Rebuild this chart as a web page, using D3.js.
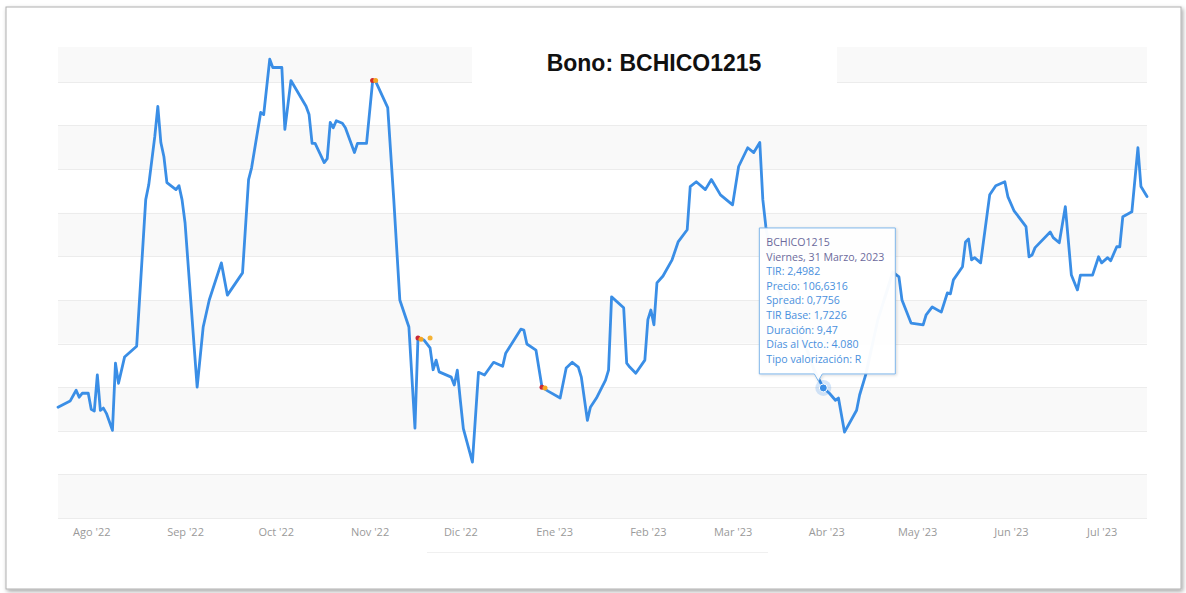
<!DOCTYPE html>
<html>
<head>
<meta charset="utf-8">
<script src="https://cdn.jsdelivr.net/npm/d3@7/dist/d3.min.js"></script>
<style>
html,body{margin:0;padding:0;background:#fff;}
svg{display:block;}
</style>
</head>
<body>
<svg id="chart" width="1186" height="593"></svg>
<script>
// ---- data ----
const titleText = "Bono: BCHICO1215";
const dates = [
"2022-07-21","2022-07-25","2022-07-27","2022-07-28","2022-07-29","2022-07-31","2022-08-01","2022-08-02","2022-08-03","2022-08-04",
"2022-08-05","2022-08-06","2022-08-08","2022-08-09","2022-08-10","2022-08-12","2022-08-16","2022-08-19","2022-08-20","2022-08-22",
"2022-08-23","2022-08-24","2022-08-25","2022-08-26","2022-08-29","2022-08-30","2022-08-31","2022-09-01","2022-09-05","2022-09-07",
"2022-09-09","2022-09-13","2022-09-15","2022-09-20","2022-09-22","2022-09-23","2022-09-26","2022-09-27","2022-09-29","2022-09-30",
"2022-10-03","2022-10-04","2022-10-06","2022-10-11","2022-10-12","2022-10-13","2022-10-14","2022-10-17","2022-10-18","2022-10-19",
"2022-10-20","2022-10-21","2022-10-23","2022-10-24","2022-10-27","2022-10-28","2022-10-31","2022-11-02","2022-11-03","2022-11-07",
"2022-11-09","2022-11-11","2022-11-14","2022-11-16","2022-11-17","2022-11-19","2022-11-21","2022-11-22","2022-11-23","2022-11-24",
"2022-11-28","2022-11-29","2022-11-30","2022-12-01","2022-12-02","2022-12-05","2022-12-07","2022-12-09","2022-12-12","2022-12-15",
"2022-12-16","2022-12-21","2022-12-22","2022-12-23","2022-12-26","2022-12-28","2022-12-30","2023-01-03","2023-01-05","2023-01-07",
"2023-01-09","2023-01-10","2023-01-12","2023-01-13","2023-01-15","2023-01-18","2023-01-19","2023-01-20","2023-01-24","2023-01-25",
"2023-01-26","2023-01-28","2023-01-31","2023-02-01","2023-02-02","2023-02-03","2023-02-04","2023-02-06","2023-02-09","2023-02-11",
"2023-02-14","2023-02-15","2023-02-17","2023-02-20","2023-02-22","2023-02-25","2023-03-01","2023-03-03","2023-03-06","2023-03-08",
"2023-03-10","2023-03-11","2023-03-12","2023-03-15","2023-03-20","2023-03-25","2023-03-28","2023-03-31","2023-04-02","2023-04-04",
"2023-04-05","2023-04-07","2023-04-11","2023-04-12","2023-04-14","2023-04-18","2023-04-23","2023-04-25","2023-04-26","2023-04-29",
"2023-05-03","2023-05-04","2023-05-06","2023-05-09","2023-05-11","2023-05-12","2023-05-13","2023-05-16","2023-05-17","2023-05-18",
"2023-05-19","2023-05-20","2023-05-22","2023-05-25","2023-05-27","2023-05-30","2023-05-31","2023-06-02","2023-06-06","2023-06-07",
"2023-06-08","2023-06-09","2023-06-14","2023-06-15","2023-06-17","2023-06-19","2023-06-21","2023-06-23","2023-06-24","2023-06-28",
"2023-06-30","2023-07-01","2023-07-03","2023-07-04","2023-07-06","2023-07-07","2023-07-08","2023-07-11","2023-07-13","2023-07-14",
"2023-07-16"
];
const tir = [
2.454,2.468,2.493,2.477,2.486,2.486,2.449,2.445,2.528,2.447,
2.452,2.440,2.401,2.555,2.509,2.569,2.594,2.930,2.964,3.075,
3.144,3.061,3.029,2.969,2.953,2.962,2.930,2.877,2.500,2.638,
2.700,2.785,2.711,2.762,2.976,3.003,3.130,3.125,3.252,3.233,
3.233,3.091,3.203,3.144,3.125,3.059,3.059,3.015,3.024,3.107,
3.095,3.111,3.105,3.095,3.038,3.059,3.059,3.201,3.201,3.141,
2.930,2.700,2.638,2.406,2.613,2.608,2.590,2.540,2.562,2.535,
2.523,2.505,2.539,2.470,2.405,2.328,2.534,2.528,2.557,2.548,
2.578,2.633,2.631,2.599,2.585,2.500,2.491,2.475,2.544,2.557,
2.546,2.523,2.424,2.454,2.475,2.516,2.539,2.707,2.682,2.555,
2.546,2.532,2.562,2.655,2.677,2.643,2.739,2.755,2.792,2.833,
2.861,2.960,2.971,2.953,2.976,2.941,2.918,3.006,3.049,3.038,
3.061,2.930,2.868,2.746,2.654,2.597,2.539,2.4982,2.486,2.470,
2.475,2.397,2.447,2.482,2.528,2.654,2.764,2.753,2.700,2.647,
2.643,2.666,2.684,2.672,2.716,2.714,2.746,2.776,2.833,2.840,
2.792,2.797,2.785,2.941,2.962,2.971,2.937,2.905,2.868,2.799,
2.803,2.820,2.856,2.843,2.831,2.914,2.757,2.723,2.757,2.757,
2.799,2.785,2.797,2.790,2.822,2.822,2.891,2.902,3.049,2.960,
2.937
];
const tickDates = ["2022-08-01","2022-09-01","2022-10-01","2022-11-01","2022-12-01","2023-01-01","2023-02-01","2023-03-01","2023-04-01","2023-05-01","2023-06-01","2023-07-01"];
const tickLabels = ["Ago '22","Sep '22","Oct '22","Nov '22","Dic '22","Ene '23","Feb '23","Mar '23","Abr '23","May '23","Jun '23","Jul '23"];
const gridValues = [2.2,2.3,2.4,2.5,2.6,2.7,2.8,2.9,3.0,3.1,3.2];
const markerDates = ["2022-11-02","2022-11-03","2022-11-17","2022-11-18","2022-11-21","2022-12-28","2022-12-29"];
const markerValues = [3.203,3.203,2.613,2.610,2.613,2.500,2.498];
const markerColors = ["#d22b2b","#f5a623","#c8283a","#f5a623","#f5b335","#c8283a","#f5a623"];
const tooltipDate = "2023-03-31";
const tooltipLines = ["BCHICO1215","Viernes, 31 Marzo, 2023","TIR: 2,4982","Precio: 106,6316","Spread: 0,7756","TIR Base: 1,7226","Duración: 9,47","Días al Vcto.: 4.080","Tipo valorización: R"];

// ---- drawing ----
const parse = d3.timeParse("%Y-%m-%d");
const series = dates.map((d,i)=>({date:parse(d), v:tir[i]}));
const svg = d3.select("#chart");

const defs = svg.append("defs");
const f = defs.append("filter").attr("id","sh").attr("x","-5%").attr("y","-5%").attr("width","110%").attr("height","110%");
f.append("feDropShadow").attr("dx",1.5).attr("dy",2).attr("stdDeviation",2).attr("flood-color","#000").attr("flood-opacity",0.35);
const f2 = defs.append("filter").attr("id","tsh").attr("x","-10%").attr("y","-10%").attr("width","125%").attr("height","125%");
f2.append("feDropShadow").attr("dx",1).attr("dy",1).attr("stdDeviation",1.5).attr("flood-color","#000").attr("flood-opacity",0.15);

// frame
svg.append("rect").attr("x",6).attr("y",7).attr("width",1175).attr("height",582)
  .attr("fill","#fff").attr("stroke","#b0b0b0").attr("stroke-width",1).attr("filter","url(#sh)");

const x = d3.scaleTime().domain([parse("2022-07-21"), parse("2023-07-16")]).range([58,1147]);
const y = d3.scaleLinear().domain([2.2, 3.28]).range([518, 47]);

// bands
const bandPairs = [[3.2,3.28],[3.0,3.1],[2.8,2.9],[2.6,2.7],[2.4,2.5],[2.2,2.3]];
svg.append("g").selectAll("rect").data(bandPairs).join("rect")
  .attr("x",58).attr("width",1147-58)
  .attr("y",d=>y(d[1])).attr("height",d=>y(d[0])-y(d[1]))
  .attr("fill","#f9f9f9");
// grid lines
svg.append("g").selectAll("line").data(gridValues).join("line")
  .attr("x1",58).attr("x2",1147)
  .attr("y1",d=>Math.round(y(d))+0.5).attr("y2",d=>Math.round(y(d))+0.5)
  .attr("stroke","#ececec").attr("stroke-width",1);

// title box
svg.append("rect").attr("x",472).attr("y",44).attr("width",365).attr("height",39).attr("fill","#fff");
svg.append("text").attr("x",654).attr("y",71).attr("text-anchor","middle")
  .attr("font-family","'Liberation Sans', Arial, sans-serif").attr("font-weight","bold")
  .attr("font-size",23).attr("fill","#111").text(titleText);

// faint shadow line under axis
svg.append("line").attr("x1",427).attr("x2",768).attr("y1",552.5).attr("y2",552.5).attr("stroke","#f0f0f0");

// x axis
const xAxis = d3.axisBottom(x)
  .tickValues(tickDates.map(parse))
  .tickFormat((d,i)=>tickLabels[i])
  .tickSize(0).tickPadding(10);
const gx = svg.append("g").attr("transform","translate(0,518)").call(xAxis);
gx.select(".domain").remove();
gx.selectAll("text").attr("font-family","'Open Sans', sans-serif").attr("font-size",11).attr("fill","#9a9a9a");

// line
const line = d3.line().x(d=>x(d.date)).y(d=>y(d.v));
svg.append("path").datum(series).attr("d",line)
  .attr("fill","none").attr("stroke","#3a8ee6").attr("stroke-width",2.8)
  .attr("stroke-linejoin","round").attr("stroke-linecap","round");

// event markers
svg.append("g").selectAll("circle").data(markerDates).join("circle")
  .attr("cx",(d)=>x(parse(d))).attr("cy",(d,i)=>y(markerValues[i]))
  .attr("r",2.5).attr("fill",(d,i)=>markerColors[i]);

// hovered point
const hp = series.find(d=>+d.date === +parse(tooltipDate));
const px = x(hp.date), py = y(hp.v);
svg.append("circle").attr("cx",px).attr("cy",py).attr("r",8).attr("fill","#3a8ee6").attr("opacity",0.22);
svg.append("circle").attr("cx",px).attr("cy",py).attr("r",4).attr("fill","#3a8ee6").attr("stroke","#fff").attr("stroke-width",1);

// tooltip
const bx = px-64, by = py-160, bw = 136, bh = 146;
const tip = svg.append("g");
tip.append("path")
  .attr("d",`M${bx},${by} h${bw} v${bh} H${px-1} l-4,7 l-4,-7 H${bx} Z`)
  .attr("fill","rgba(255,255,255,0.96)").attr("stroke","#7fb6ea").attr("stroke-width",1)
  .attr("filter","url(#tsh)");
tip.selectAll("text").data(tooltipLines).join("text")
  .attr("x",bx+7).attr("y",(d,i)=>by+18+i*14.6)
  .attr("font-family","'Open Sans', sans-serif").attr("font-size",10.6)
  .attr("fill",(d,i)=> i<2 ? "#6c6a9c" : "#4a90dd")
  .text(d=>d);
</script>
</body>
</html>
